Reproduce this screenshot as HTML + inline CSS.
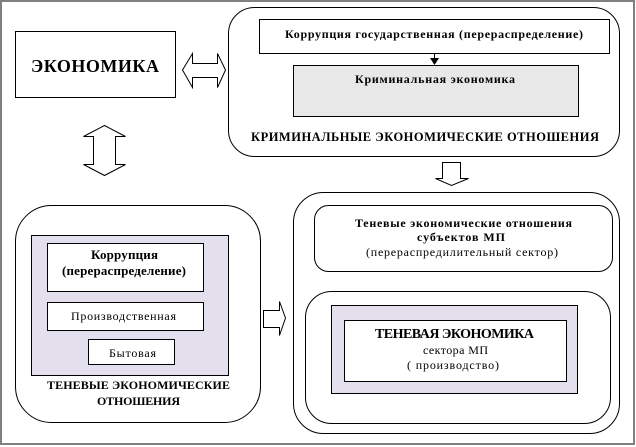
<!DOCTYPE html>
<html><head><meta charset="utf-8"><style>
html,body{margin:0;padding:0;background:#fff;}
svg{display:block;}
text{font-family:"Liberation Serif","DejaVu Serif",serif;fill:#000;}
.b{font-weight:bold;}
</style></head><body>
<svg width="636" height="447" viewBox="0 0 636 447" xmlns="http://www.w3.org/2000/svg">
<rect x="0" y="0" width="636" height="447" fill="#fff"/>
<rect x="1" y="1" width="633" height="443" fill="none" stroke="#808080" stroke-width="2"/>

<!-- ЭКОНОМИКА -->
<rect x="15.5" y="31.5" width="160" height="66" fill="#fff" stroke="#000"/>
<text class="b" x="31" y="72" font-size="18" textLength="128" lengthAdjust="spacing">ЭКОНОМИКА</text>

<!-- horizontal double arrow -->
<polygon points="182.5,70 192.5,53.5 192.5,63.5 217.5,63.5 217.5,53.5 225.5,70 217.5,87.5 217.5,77.5 192.5,77.5 192.5,87.5" fill="#fff" stroke="#000"/>

<!-- vertical double arrow -->
<polygon points="104.5,125.5 125.5,136.5 115.5,136.5 115.5,164.5 125.5,164.5 104.5,175.5 83.5,164.5 93.5,164.5 93.5,136.5 83.5,136.5" fill="#fff" stroke="#000"/>

<!-- Criminal group -->
<rect x="228.5" y="7.5" width="391" height="149" rx="26" ry="26" fill="#fff" stroke="#000"/>
<rect x="259.5" y="19.5" width="350" height="34" fill="#fff" stroke="#000"/>
<text class="b" x="285" y="38" font-size="12" textLength="298" lengthAdjust="spacing">Коррупция государственная (перераспределение)</text>
<line x1="434.5" y1="54" x2="434.5" y2="59" stroke="#000"/>
<polygon points="430,58 439,58 434.5,65" fill="#000"/>
<rect x="293.5" y="65.5" width="285" height="51" fill="#e8e8e8" stroke="#000"/>
<text class="b" x="355" y="83" font-size="12" textLength="160" lengthAdjust="spacing">Криминальная экономика</text>
<text class="b" x="251" y="141" font-size="12.5" textLength="348" lengthAdjust="spacing">КРИМИНАЛЬНЫЕ ЭКОНОМИЧЕСКИЕ ОТНОШЕНИЯ</text>

<!-- down arrow -->
<polygon points="442.5,162.5 460.5,162.5 460.5,178.5 468.5,178.5 451.5,185.5 435.5,178.5 442.5,178.5" fill="#fff" stroke="#000"/>

<!-- bottom-left group -->
<rect x="15.5" y="205.5" width="245" height="217" rx="36" ry="36" fill="#fff" stroke="#000"/>
<rect x="31.5" y="235.5" width="197" height="140" fill="#e4dfec" stroke="#000"/>
<rect x="47.5" y="243.5" width="156" height="48" fill="#fff" stroke="#000"/>
<text class="b" x="91" y="259" font-size="13" textLength="67" lengthAdjust="spacing">Коррупция</text>
<text class="b" x="62" y="275" font-size="13" textLength="124" lengthAdjust="spacing">(перераспределение)</text>
<rect x="47.5" y="302.5" width="156" height="28" fill="#fff" stroke="#000"/>
<text x="71" y="320" font-size="12" textLength="105" lengthAdjust="spacing">Производственная</text>
<rect x="88.5" y="339.5" width="86" height="25" fill="#fff" stroke="#000"/>
<text x="109" y="357" font-size="12" textLength="47" lengthAdjust="spacing">Бытовая</text>
<text class="b" x="47" y="389" font-size="12" textLength="183" lengthAdjust="spacing">ТЕНЕВЫЕ  ЭКОНОМИЧЕСКИЕ</text>
<text class="b" x="97" y="405" font-size="12" textLength="83" lengthAdjust="spacing">ОТНОШЕНИЯ</text>

<!-- right arrow -->
<polygon points="263.5,310.5 279.5,310.5 279.5,301.5 285.5,318 279.5,335.5 279.5,327.5 263.5,327.5" fill="#fff" stroke="#000"/>

<!-- bottom-right group -->
<rect x="293.5" y="192.5" width="326" height="241" rx="30" ry="30" fill="#fff" stroke="#000"/>
<rect x="314.5" y="205.5" width="298" height="66" rx="14" ry="14" fill="#fff" stroke="#000"/>
<text class="b" x="355" y="227" font-size="12" textLength="217" lengthAdjust="spacing">Теневые экономические отношения</text>
<text class="b" x="417" y="241" font-size="12" textLength="88" lengthAdjust="spacing">субъектов МП</text>
<text x="366" y="256" font-size="12" textLength="192" lengthAdjust="spacing">(перераспредилительный  сектор)</text>

<rect x="305.5" y="291.5" width="305" height="132" rx="26" ry="26" fill="#fff" stroke="#000"/>
<rect x="331.5" y="305.5" width="246" height="88" fill="#e4dfec" stroke="#000"/>
<rect x="344.5" y="320.5" width="222" height="61" fill="#fff" stroke="#000"/>
<text class="b" x="375" y="338" font-size="14" textLength="159" lengthAdjust="spacing">ТЕНЕВАЯ ЭКОНОМИКА</text>
<text x="423" y="354" font-size="12" textLength="65" lengthAdjust="spacing">сектора МП</text>
<text x="407" y="369" font-size="12" textLength="92" lengthAdjust="spacing">( производство)</text>
</svg>
</body></html>
